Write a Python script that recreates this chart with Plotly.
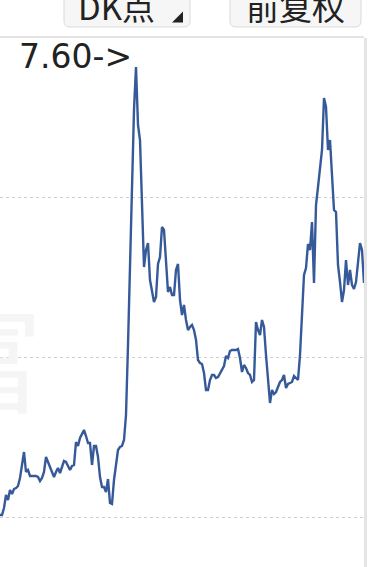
import plotly.graph_objects as go

# ---- data (price series) ----
prices = [
    3.12, 3.12, 3.19, 3.32, 3.27, 3.37, 3.33, 3.38, 3.39, 3.41,
    3.49, 3.64, 3.75, 3.55, 3.57, 3.51, 3.51, 3.51, 3.51, 3.50,
    3.46, 3.49, 3.55, 3.70, 3.65, 3.61, 3.54, 3.50, 3.55, 3.59,
    3.54, 3.60, 3.66, 3.65, 3.61, 3.57, 3.61, 3.62, 3.85, 3.81,
    3.89, 3.93, 3.97, 3.91, 3.84, 3.84, 3.62, 3.81, 3.81, 3.70,
    3.50, 3.40, 3.40, 3.35, 3.48, 3.24, 3.23, 3.47, 3.65, 3.77,
    3.80, 3.81, 3.87, 4.12, 4.82, 5.62, 6.42, 7.17, 7.60, 7.02,
    6.87, 6.14, 5.60, 5.77, 5.84, 5.47, 5.34, 5.25, 5.30, 5.63,
    5.70, 6.00, 5.97, 5.67, 5.35, 5.40, 5.32, 5.32, 5.57, 5.63,
    5.27, 5.12, 5.22, 5.07, 4.97, 5.00, 5.02, 4.97, 4.87, 4.67,
    4.64, 4.63, 4.54, 4.37, 4.37, 4.47, 4.52, 4.52, 4.49, 4.50,
    4.54, 4.57, 4.61, 4.71, 4.69, 4.76, 4.77, 4.77, 4.77, 4.78,
    4.69, 4.55, 4.62, 4.59, 4.54, 4.52, 4.45, 4.47, 5.05, 4.97,
    4.92, 5.07, 5.00, 4.72, 4.47, 4.24, 4.37, 4.33, 4.35, 4.41,
    4.45, 4.47, 4.52, 4.39, 4.43, 4.44, 4.45, 4.51, 4.49, 4.47,
    4.72, 5.15, 5.52, 5.59, 5.83, 5.77, 6.05, 5.44, 6.22, 6.40,
    6.57, 6.77, 7.29, 7.20, 6.77, 6.87, 6.52, 6.17, 6.15, 5.62,
    5.45, 5.25, 5.37, 5.67, 5.42, 5.57, 5.42, 5.38, 5.45, 5.69,
    5.84, 5.77, 5.44,
]
days = list(range(len(prices)))
grid_levels = [3.10, 4.70, 6.30]
y_range = [2.60, 7.90]
max_label = "7.60->"
button_labels = ["DK点", "前复权"]

# ---- layout helpers (pixel -> paper) ----
W, H = 378, 567
ML, MR, MT, MB = 0, 14, 37, 0
PW, PH = W - ML - MR, H - MT - MB


def px(x):
    return (x - ML) / PW


def py(y):
    return (H - MB - y) / PH


def round_box(x0, y0, x1, y1, r):
    pts = [
        ("M", x0 + r, y0), ("L", x1 - r, y0), ("Q", x1, y0, x1, y0 + r),
        ("L", x1, y1 - r), ("Q", x1, y1, x1 - r, y1), ("L", x0 + r, y1),
        ("Q", x0, y1, x0, y1 - r), ("L", x0, y0 + r), ("Q", x0, y0, x0 + r, y0),
    ]
    out = []
    for p in pts:
        cmd, coords = p[0], p[1:]
        s = " ".join(f"{px(coords[i]):.5f},{py(coords[i + 1]):.5f}" for i in range(0, len(coords), 2))
        out.append(f"{cmd}{s}")
    return " ".join(out) + " Z"


fig = go.Figure()
fig.add_trace(go.Scatter(
    x=days, y=prices, mode="lines",
    line=dict(color="#36599a", width=2.4),
    hoverinfo="skip", showlegend=False,
))

shapes = []
# buttons
for (bx0, bx1) in [(64, 190), (230, 361)]:
    shapes.append(dict(type="path", xref="paper", yref="paper",
                       path=round_box(bx0, -12, bx1, 27, 6),
                       fillcolor="#f6f6f6", line=dict(color="#dadada", width=1), layer="above"))
# dropdown triangle
tri = f"M{px(183):.5f},{py(11.5):.5f} L{px(183):.5f},{py(22.5):.5f} L{px(172):.5f},{py(22.5):.5f} Z"
shapes.append(dict(type="path", xref="paper", yref="paper", path=tri,
                   fillcolor="#222222", line=dict(width=0), layer="above"))
# panel borders
shapes.append(dict(type="line", xref="paper", yref="paper",
                   x0=px(0), x1=px(364), y0=py(37), y1=py(37),
                   line=dict(color="#e4e4e4", width=2), layer="above"))
shapes.append(dict(type="line", xref="paper", yref="paper",
                   x0=px(365.5), x1=px(365.5), y0=py(38), y1=py(570),
                   line=dict(color="#e4e4e4", width=3), layer="above"))

annotations = [
    dict(text="富", xref="paper", yref="paper", x=px(-16), y=py(352),
         xanchor="center", yanchor="middle", showarrow=False,
         font=dict(size=118, color="#f5f5f5", family="Noto Sans CJK SC")),
    dict(text=max_label, xref="paper", yref="paper", x=px(134), y=py(56),
         xanchor="right", yanchor="middle", showarrow=False,
         font=dict(size=33, color="#222222", family="DejaVu Sans")),
    dict(text=button_labels[0], xref="paper", yref="paper", x=px(76), y=py(6),
         xanchor="left", yanchor="middle", showarrow=False,
         font=dict(size=33, color="#222222", family="Noto Sans CJK SC")),
    dict(text=button_labels[1], xref="paper", yref="paper", x=px(244), y=py(6),
         xanchor="left", yanchor="middle", showarrow=False,
         font=dict(size=33, color="#222222", family="Noto Sans CJK SC")),
]

fig.update_layout(
    width=W, height=H,
    margin=dict(l=ML, r=MR, t=MT, b=MB, autoexpand=False),
    paper_bgcolor="white", plot_bgcolor="white",
    shapes=shapes, annotations=annotations,
    xaxis=dict(range=[0, len(prices) - 1], showgrid=False, zeroline=False,
               showticklabels=False, showline=False, ticks=""),
    yaxis=dict(range=y_range, tickvals=grid_levels, showgrid=True,
               gridcolor="#cfcfcf", griddash="dot", gridwidth=1,
               zeroline=False, showticklabels=False, showline=False, ticks=""),
    showlegend=False,
)
fig.write_html("out.html", config={"displayModeBar": False})
